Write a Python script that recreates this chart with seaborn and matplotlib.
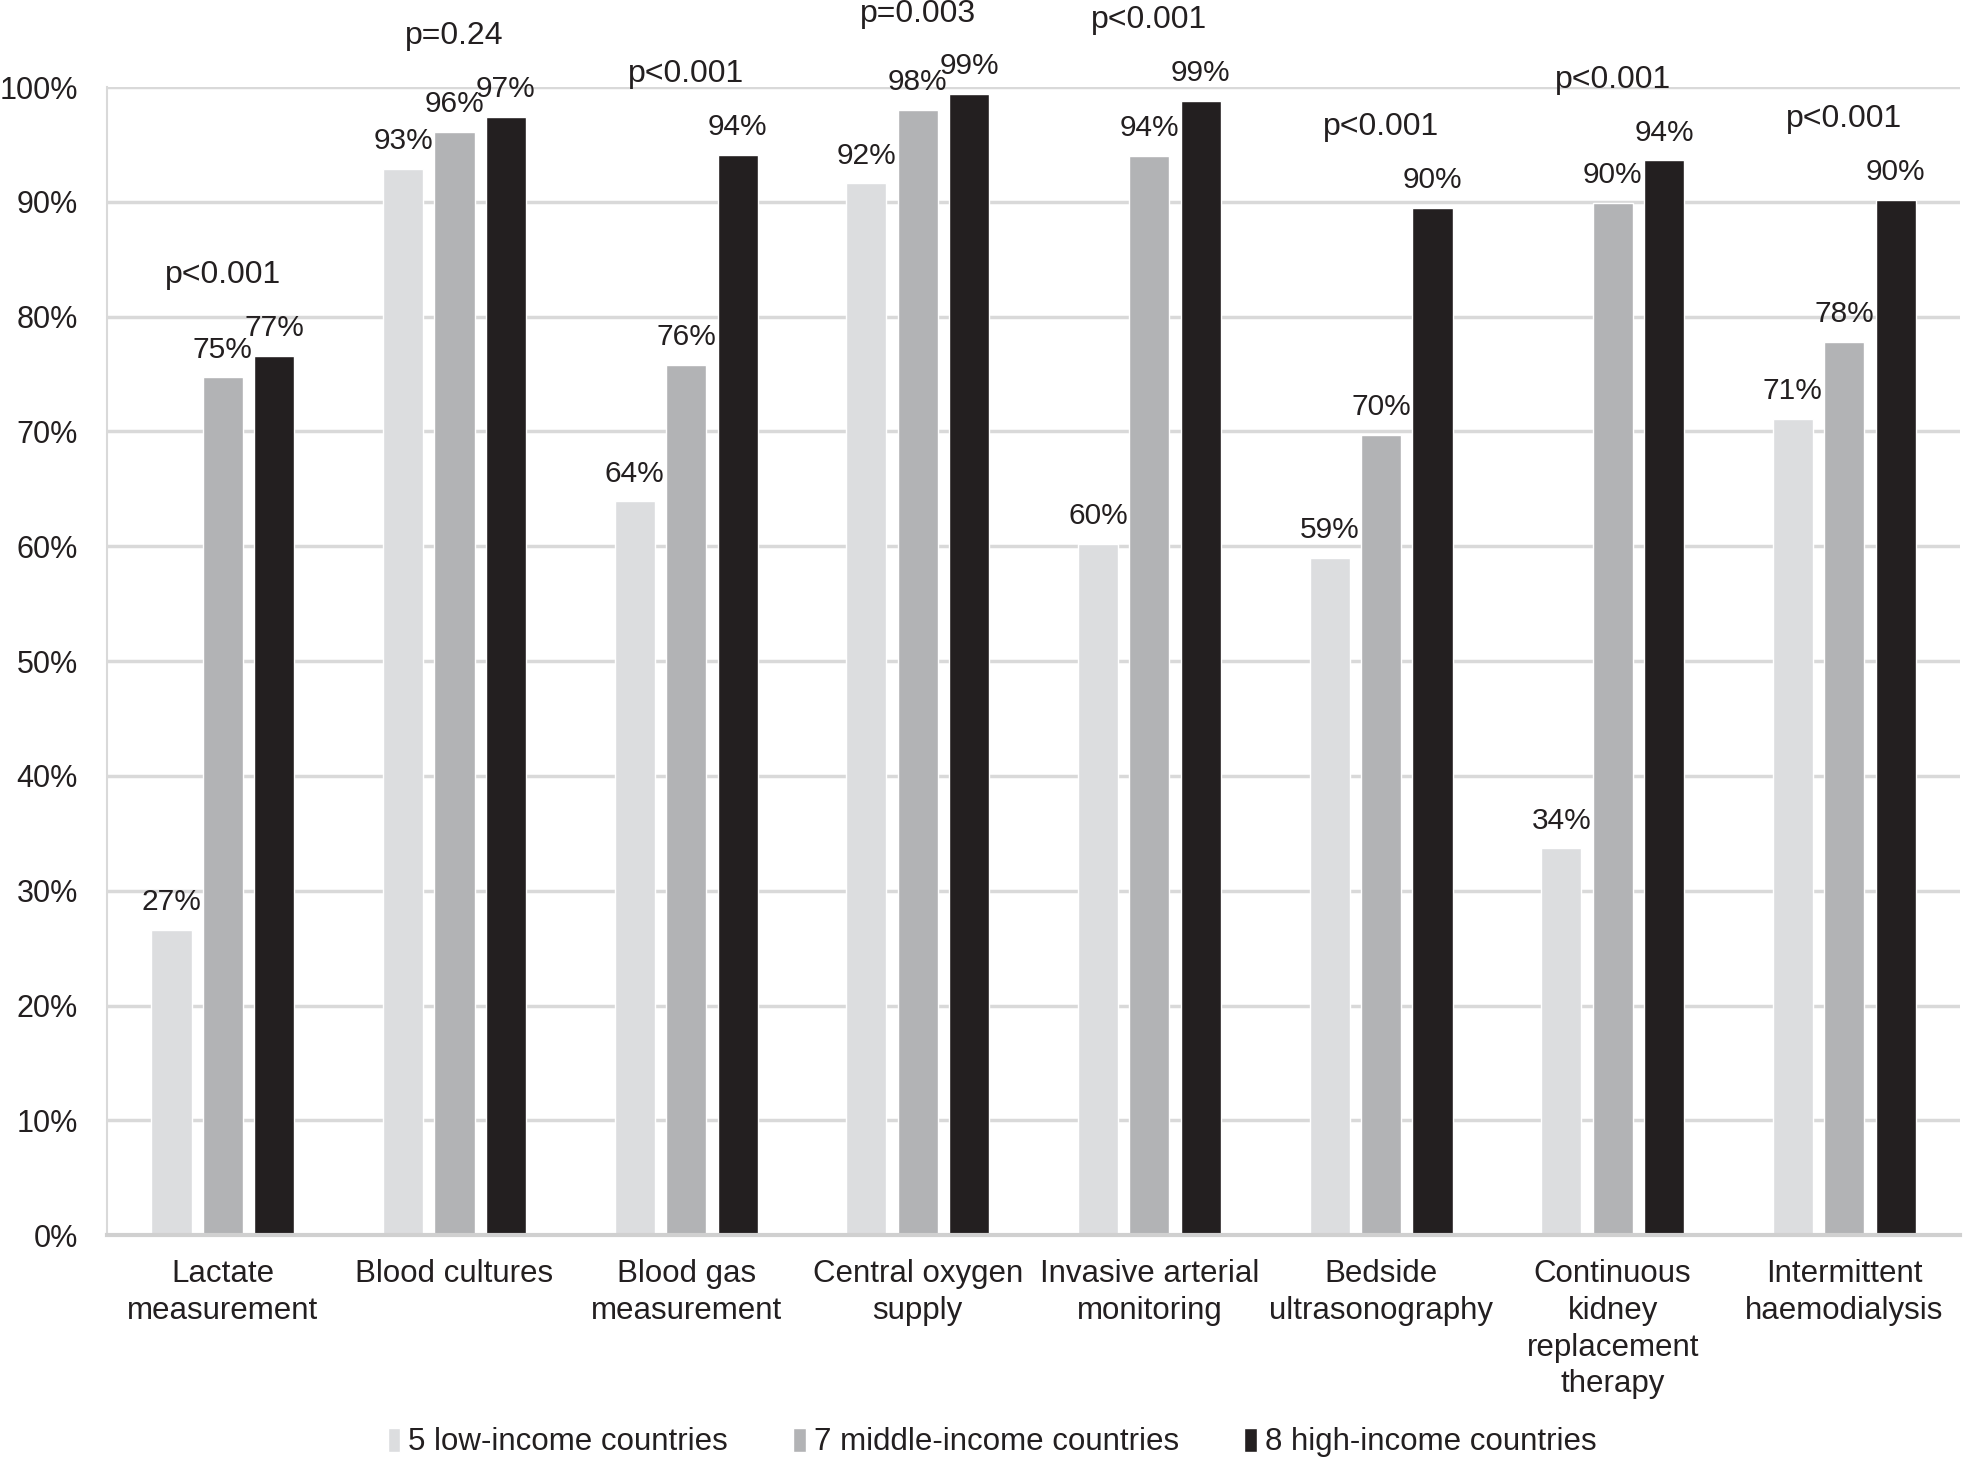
import seaborn as sns
import matplotlib.pyplot as plt
import pandas as pd

categories = ["Lactate\nmeasurement", "Blood cultures", "Blood gas\nmeasurement",
              "Central oxygen\nsupply", "Invasive arterial\nmonitoring",
              "Bedside\nultrasonography", "Continuous\nkidney\nreplacement\ntherapy",
              "Intermittent\nhaemodialysis"]
groups = ["5 low-income countries", "7 middle-income countries", "8 high-income countries"]
low = [0.266, 0.929, 0.639, 0.916, 0.602, 0.590, 0.337, 0.711]
middle = [0.747, 0.961, 0.758, 0.980, 0.940, 0.697, 0.899, 0.778]
high = [0.766, 0.974, 0.941, 0.994, 0.988, 0.895, 0.936, 0.902]
p_values = ["p<0.001", "p=0.24", "p<0.001", "p=0.003", "p<0.001", "p<0.001", "p<0.001", "p<0.001"]
colors = ["#dcdddf", "#b2b3b5", "#231f20"]
text_color = "#231f20"

df = pd.DataFrame({
    "category": categories * 3,
    "group": [g for g in groups for _ in categories],
    "value": low + middle + high,
})

sns.set_theme(style="white")
plt.rcParams["font.family"] = ["Liberation Sans", "DejaVu Sans"]
plt.rcParams["text.color"] = text_color

fig = plt.figure(figsize=(19.68, 14.6), dpi=100)
ax = fig.add_axes([0.0544, 0.154, 0.9416, 0.7864])

sns.barplot(data=df, x="category", y="value", hue="group", order=categories,
            hue_order=groups, palette=colors, width=0.666, gap=0.22,
            saturation=1, ax=ax, errorbar=None)

ax.set_ylim(0, 1)
ax.set_xlim(-0.5, len(categories) - 0.5)
ax.set_yticks([i / 10 for i in range(11)])
ax.set_yticklabels([f"{i * 10}%" for i in range(11)])
ax.yaxis.grid(True, color="#d9d9d9", linewidth=2.5)
ax.set_axisbelow(True)
ax.set_xlabel("")
ax.set_ylabel("")
ax.tick_params(axis="both", length=0, labelsize=22, colors=text_color)
ax.tick_params(axis="y", pad=21)
ax.tick_params(axis="x", pad=17, labelsize=22.5)
for lbl in ax.get_xticklabels():
    lbl.set_linespacing(1.3)
for side in ["top", "right"]:
    ax.spines[side].set_visible(False)
ax.spines["left"].set_color("#d9d9d9")
ax.spines["left"].set_linewidth(1.5)
ax.spines["bottom"].set_color("#d0d0d0")
ax.spines["bottom"].set_linewidth(3)

# value labels over each bar
for cont in ax.containers:
    for bar in cont:
        h = bar.get_height()
        ax.text(bar.get_x() + bar.get_width() / 2, h + 0.024, f"{h:.0%}",
                ha="center", va="center", fontsize=21.5, clip_on=False)

# p-values above each group
for i, p in enumerate(p_values):
    top = max(low[i], middle[i], high[i])
    ax.text(i, top + 0.07, p, ha="center", va="center", fontsize=23, clip_on=False)

handles, labels = ax.get_legend_handles_labels()
ax.get_legend().remove()
fig.legend(handles, labels, loc="center", bbox_to_anchor=(0.504, 0.012), ncol=3,
           frameon=False, fontsize=22.5, handlelength=0.4, handleheight=0.8,
           handletextpad=0.25, columnspacing=2.1)

fig.savefig("out.png", dpi=100)
